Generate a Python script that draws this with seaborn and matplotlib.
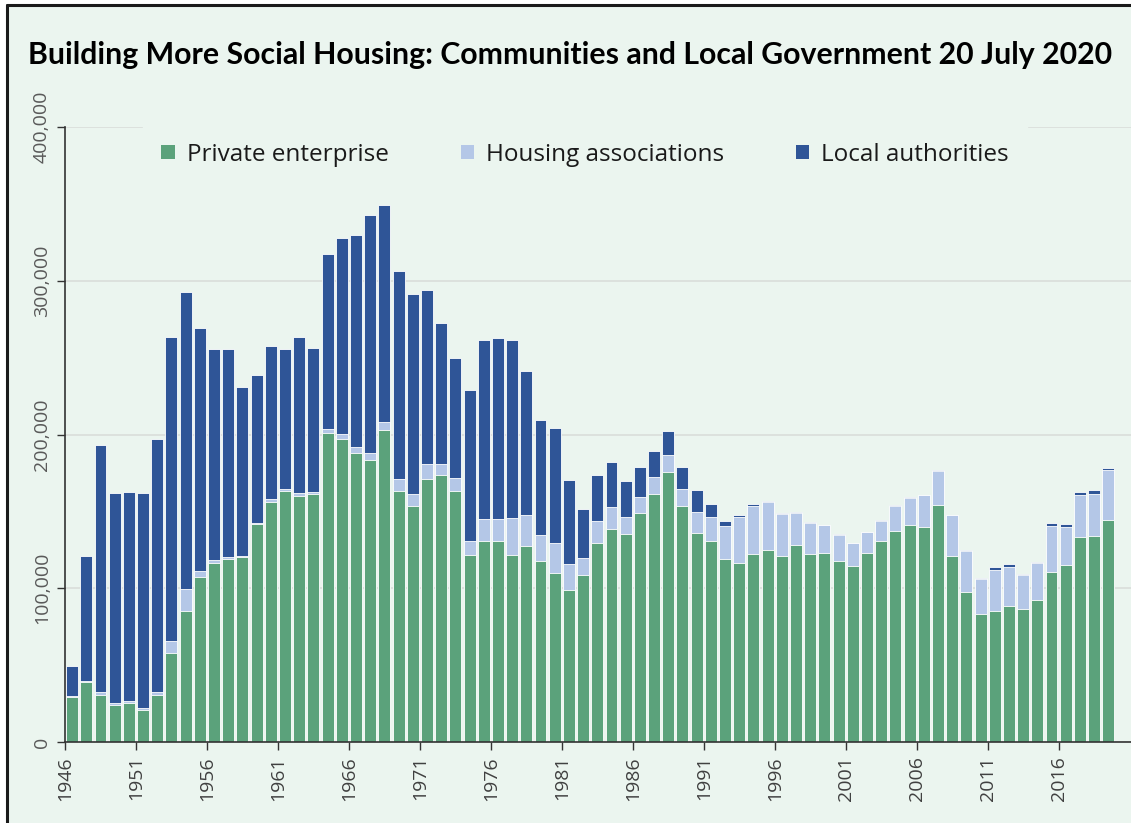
import numpy as np
import pandas as pd
import matplotlib
matplotlib.use("Agg")
import matplotlib.pyplot as plt
from matplotlib.patches import Patch, Rectangle
from matplotlib.lines import Line2D
import seaborn as sns

years = list(range(1946, 2020))

private = [29200, 39000, 30500, 24000, 25400, 20500, 30800, 58100, 85200, 107000,
           116300, 119000, 120100, 142000, 156400, 163300, 160300, 161100, 200700, 197100,
           187800, 183700, 202800, 163500, 153200, 170900, 173900, 163300, 121500, 131000,
           130800, 121500, 127200, 117900, 110000, 98800, 108700, 129400, 138700, 135100,
           148800, 161300, 175800, 153700, 136000, 131000, 119300, 116300, 122300, 125000,
           121200, 128000, 122300, 122900, 117900, 114700, 122900, 130800, 137000, 141400,
           139800, 154000, 120900, 97500, 83000, 85400, 88700, 86800, 92500, 110600,
           115200, 133200, 134300, 144700]

housing_assoc = [500, 1000, 1800, 1200, 1400, 1400, 1600, 7400, 14500, 4100,
                 1900, 1600, 1100, 500, 1400, 1400, 1400, 1400, 2700, 3300,
                 4100, 4400, 5500, 7600, 7900, 10100, 7100, 8200, 9000, 13900,
                 14200, 24000, 20500, 16700, 19400, 16700, 10900, 14500, 13900, 11500,
                 10600, 11200, 10600, 10600, 13700, 15300, 21000, 29800, 31100, 31100,
                 27300, 21000, 20200, 18000, 17000, 14500, 13700, 13200, 16700, 17500,
                 20700, 22400, 26500, 27000, 23200, 26200, 25400, 22000, 23700, 30000,
                 24600, 27600, 27300, 31900]

local_auth = [20000, 81000, 161000, 136700, 136000, 140300, 164600, 198000, 193300, 158300,
              137600, 135100, 109700, 95900, 99600, 91100, 101500, 93900, 113800, 127200,
              137900, 154500, 140900, 135400, 130500, 113300, 91500, 78100, 98600, 116300,
              117900, 116000, 93600, 74800, 74800, 54900, 32200, 29800, 29500, 23200,
              19400, 16700, 16100, 14700, 14200, 8200, 3500, 1400, 1100, 800,
              500, 500, 500, 500, 200, 200, 200, 200, 200, 300,
              300, 300, 500, 500, 500, 2200, 1400, 700, 1100, 1600,
              1900, 1600, 2500, 1900]

series_names = ["Private enterprise", "Housing associations", "Local authorities"]
colors = ["#5BA27B", "#B4C7E7", "#2F5597"]
title = "Building More Social Housing: Communities and Local Government 20 July 2020"
yticks = [0, 100000, 200000, 300000, 400000]
ytick_labels = ["0", "100,000", "200,000", "300,000", "400,000"]

df = pd.DataFrame({"year": [str(y) for y in years],
                   "pe": private, "ha": housing_assoc, "la": local_auth})
df["lvl2"] = df["pe"] + df["ha"]
df["lvl3"] = df["lvl2"] + df["la"]

BG = "#EBF5EF"
sns.set_style("white")
plt.rcParams["font.family"] = ["Open Sans", "DejaVu Sans"]
FAM = ["Open Sans", "DejaVu Sans"]

W, H = 1131, 823
fig = plt.figure(figsize=(W / 100, H / 100), dpi=100)
fig.patch.set_facecolor("white")
fig.patches.append(Rectangle((7 / W, 0), 1 - 7 / W, 1 - 5 / H, transform=fig.transFigure,
                             facecolor=BG, edgecolor="none", zorder=-10))
fig.lines.append(Line2D([7 / W, 1], [1 - 5 / H, 1 - 5 / H], transform=fig.transFigure,
                        color="#1a1a1a", lw=2.2))
fig.lines.append(Line2D([7 / W, 7 / W], [0, 1 - 5 / H], transform=fig.transFigure,
                        color="#1a1a1a", lw=2.2))

ax = fig.add_axes([65 / W, 1 - 742 / H, 1 - 65 / W, (742 - 127) / H])
ax.set_facecolor(BG)
ax.patch.set_alpha(0)

for col, c in zip(["lvl3", "lvl2", "pe"], [colors[2], colors[1], colors[0]]):
    sns.barplot(data=df, x="year", y=col, color=c, width=0.84, saturation=1,
                edgecolor="white", linewidth=0.6, ax=ax, zorder=3)

ax.set_ylim(0, 400000)
ax.set_xlim(-0.5, 74.6)
ax.set_yticks(yticks)
ax.set_yticklabels(ytick_labels, rotation=90, va="center", fontsize=14,
                   color="#595959", family=FAM)
xt = [i - 0.5 for i in range(0, len(years), 5)]
ax.set_xticks(xt)
ax.set_xticklabels([str(years[i]) for i in range(0, len(years), 5)], rotation=90,
                   fontsize=14, color="#404040", family=FAM)
ax.tick_params(axis="both", which="both", length=6, width=1, color="#333333",
               direction="out", left=True, bottom=True, pad=4)
ax.grid(axis="y", color="#D9DDDA", lw=1.2, zorder=0)
ax.set_axisbelow(True)
ax.set_xlabel("")
ax.set_ylabel("")
for s in ["top", "right"]:
    ax.spines[s].set_visible(False)
for s in ["left", "bottom"]:
    ax.spines[s].set_color("#333333")
    ax.spines[s].set_linewidth(1.2)
    ax.spines[s].set_zorder(5)

handles = [Patch(facecolor=c, edgecolor="none") for c in colors]
leg = ax.legend(handles, series_names, loc="center", bbox_to_anchor=(0.488, 0.955),
                ncol=3, prop={"family": FAM, "size": 17.5}, frameon=True,
                facecolor=BG, edgecolor=BG,
                framealpha=1, fancybox=False, handlelength=0.55, handleheight=0.55,
                handletextpad=0.5, columnspacing=2.95, borderpad=0.75)
for t in leg.get_texts():
    t.set_color("#1a1a1a")
leg.set_zorder(10)

fig.text(28 / W, 1 - 55 / H, title, fontsize=21.8, fontweight="bold",
         family=["Lato", "DejaVu Sans"], va="center", ha="left", color="#000000")

fig.savefig("out.png", dpi=100, facecolor=fig.get_facecolor())
